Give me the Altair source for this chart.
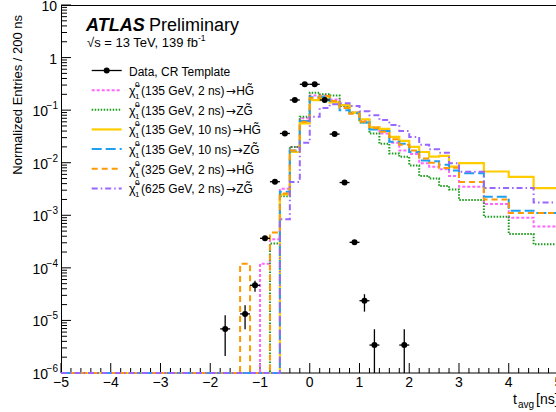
import altair as alt
import numpy as np
import pandas as pd

FONT = "Liberation Sans"

# ---------------- layout (plot area in px) ----------------
W, H = 495, 368
PAD = {"left": 61, "top": 5, "right": 0, "bottom": 39}
X_MIN, X_MAX = -5.0, 4.95
Y_MIN, Y_MAX = 1e-6, 10.0

# ---------------- binning of t_avg (ns) ----------------
fine_edges = np.round(np.arange(-5.0, 3.0001, 0.2), 1)
edges = np.concatenate([fine_edges, [3.5, 4.0, 4.5, 5.0]])
first_filled = -1.4  # every template is empty below this edge

# signal templates, normalized entries per bin starting at first_filled
h135_2ns_H = [0, 0, 1.2e-4, 3.5e-4, 3.2e-3, 0.020, 0.070, 0.19, 0.19, 0.16, 0.12,
              0.09, 0.065, 0.048, 0.036, 0.024, 0.017, 0.0147, 9.8e-3, 8.4e-3,
              7.5e-3, 5.6e-3, 3.5e-3, 1.64e-3, 9.0e-4, 6.1e-4]
h135_2ns_Z = [0, 0, 0, 2.9e-4, 2.3e-3, 0.020, 0.075, 0.215, 0.20, 0.19, 0.12,
              0.09, 0.058, 0.036, 0.023, 0.015, 0.013, 8.9e-3, 5.6e-3, 5.0e-3,
              3.6e-3, 3.1e-3, 1.95e-3, 9.4e-4, 4.4e-4, 2.8e-4]
h135_10ns_H = [0, 0, 0, 0, 2.5e-3, 0.016, 0.056, 0.155, 0.168, 0.14, 0.125,
               0.09, 0.067, 0.047, 0.044, 0.031, 0.026, 0.020, 0.016, 0.013,
               0.0135, 8.4e-3, 9.8e-3, 6.8e-3, 5.4e-3, 3.3e-3]
h135_10ns_Z = [0, 0, 0, 0, 2.8e-3, 0.017, 0.062, 0.175, 0.18, 0.15, 0.10,
               0.087, 0.058, 0.043, 0.040, 0.025, 0.023, 0.016, 0.011, 0.0107,
               9.1e-3, 7.1e-3, 6.3e-3, 2.26e-3, 1.22e-3, 1.1e-3]
h325_2ns_H = [1.2e-4, 0, 0, 4.7e-4, 2.6e-3, 0.017, 0.060, 0.17, 0.185, 0.15, 0.11,
              0.085, 0.060, 0.045, 0.039, 0.028, 0.022, 0.017, 0.012, 0.010,
              7.9e-3, 8.0e-3, 4.3e-3, 2.0e-3, 1.1e-3, 1.1e-3]
h625_2ns_Z = [0, 0, 0, 0, 8.4e-4, 4.3e-3, 0.024, 0.075, 0.11, 0.13, 0.135,
              0.12, 0.095, 0.08, 0.065, 0.052, 0.04, 0.031, 0.022, 0.018,
              0.0155, 9.8e-3, 6.7e-3, 3.3e-3, 3.3e-3, 1.75e-3]

# data (CR template): bin centres, contents and error-bar bounds
data_t = [-1.7, -1.3, -1.1, -0.9, -0.7, -0.5, -0.3, -0.1, 0.1, 0.3, 0.5, 0.7,
          0.9, 1.1, 1.3, 1.9]
data_v = [6.9e-6, 1.33e-5, 4.66e-5, 3.65e-4, 4.35e-3, 0.036, 0.156, 0.31, 0.31,
          0.156, 0.035, 4.2e-3, 3.06e-4, 2.37e-5, 3.4e-6, 3.4e-6]
data_lo = [2.1e-6, 6.8e-6, 3.5e-5, 3.35e-4, 4.2e-3, 0.0355, 0.155, 0.309, 0.309,
           0.155, 0.0345, 4.05e-3, 2.8e-4, 1.47e-5, 0, 0]
data_hi = [1.25e-5, 1.95e-5, 5.7e-5, 3.95e-4, 4.5e-3, 0.0365, 0.157, 0.311, 0.311,
           0.157, 0.0355, 4.35e-3, 3.3e-4, 3.15e-5, 6.8e-6, 6.8e-6]
half_bin = 0.1

# (mass/lifetime text, decay product, colour, dash, width, values)
samples = [
    ("(135 GeV, 2 ns)", "HG\u0303", "#ff66ff", [3, 2], 2.0, h135_2ns_H),
    ("(135 GeV, 2 ns)", "ZG\u0303", "#1a9c1a", [1.5, 1.5], 2.0, h135_2ns_Z),
    ("(135 GeV, 10 ns)", "HG\u0303", "#ffcc00", None, 2.2, h135_10ns_H),
    ("(135 GeV, 10 ns)", "ZG\u0303", "#1fa0ee", [10, 4], 2.0, h135_10ns_Z),
    ("(325 GeV, 2 ns)", "HG\u0303", "#ff9900", [6, 4], 2.0, h325_2ns_H),
    ("(625 GeV, 2 ns)", "ZG\u0303", "#9966ff", [6, 3, 1.5, 3], 2.0, h625_2ns_Z),
]

# Helvetica/Arial advance widths (1/1000 em) used to chain legend text pieces
ADV = {"(": 333, ")": 333, " ": 278, ",": 278, "G": 778, "e": 556, "V": 667,
       "n": 556, "s": 500}


def text_width(s, size):
    return sum(ADV.get(c, 556) for c in s) * size / 1000.0


xs = alt.Scale(domain=[X_MIN, X_MAX], nice=False, zero=False)
ys = alt.Scale(type="log", domain=[Y_MIN, Y_MAX], nice=False)
X = lambda f: alt.X(f, scale=xs, axis=None)
Y = lambda f: alt.Y(f, scale=ys, axis=None)


def hist_frame(vals):
    lefts = edges[:-1]
    n_empty = int(np.sum(lefts < first_filled - 1e-9))
    full = [0.0] * n_empty + list(vals)
    v = np.maximum(np.array(full + [full[-1]], dtype=float), Y_MIN)
    return pd.DataFrame({"t": edges, "v": v})


one = pd.DataFrame({"k": [0]})


def text(s, x, y, size, font=FONT, **kw):
    kw.setdefault("align", "left")
    kw.setdefault("baseline", "alphabetic")
    return alt.Chart(one).mark_text(text=s, font=font, fontSize=size,
                                    color="black", **kw).encode(
        x=alt.value(x), y=alt.value(y))


def rule(x, x2, y, y2=None, **kw):
    enc = dict(x=alt.value(x), x2=alt.value(x2), y=alt.value(y))
    if y2 is not None:
        enc["y2"] = alt.value(y2)
    return alt.Chart(one).mark_rule(**kw).encode(**enc)


layers = []

# ---- frame ----
layers.append(rule(0, W, 0.5, color="black", strokeWidth=1))
layers.append(rule(0.5, 0.5, 0, H, color="black", strokeWidth=1))
layers.append(rule(0, W, H, color="black", strokeWidth=1))

# inward tick marks
x_major = list(range(-5, 5))
x_minor = [round(-5 + 0.2 * i, 1) for i in range(50) if i % 5 != 0]
y_major = [10.0 ** k for k in range(-6, 2)]
y_minor = [m * 10.0 ** k for k in range(-6, 1) for m in range(2, 10)]
for vals, ln in ((x_major, 10), (x_minor, 5)):
    layers.append(alt.Chart(pd.DataFrame({"t": vals})).mark_rule(
        color="black", strokeWidth=1).encode(
        x=X("t:Q"), y=alt.value(H), y2=alt.value(H - ln)))
for vals, ln in ((y_major, 10), (y_minor, 6)):
    layers.append(alt.Chart(pd.DataFrame({"v": vals})).mark_rule(
        color="black", strokeWidth=1).encode(
        y=Y("v:Q"), x=alt.value(0), x2=alt.value(ln)))

# x tick labels
xl = pd.DataFrame({"t": x_major + [5],
                   "s": [str(v).replace("-", "\u2212") for v in x_major + [5]]})
layers.append(alt.Chart(xl).mark_text(
    font=FONT, fontSize=14, align="center", baseline="top", dy=3,
    color="black").encode(x=X("t:Q"), y=alt.value(H), text="s:N"))

# y tick labels 10^k
dec = pd.DataFrame({"v": [10.0 ** k for k in range(-6, 0)],
                    "e": ["\u2212%d" % -k for k in range(-6, 0)]})
layers.append(alt.Chart(dec).mark_text(
    text="10", font=FONT, fontSize=14, align="right", baseline="middle",
    dy=2, color="black").encode(y=Y("v:Q"), x=alt.value(-13)))
layers.append(alt.Chart(dec).mark_text(
    font=FONT, fontSize=10, align="right", baseline="middle", dy=-4,
    color="black").encode(y=Y("v:Q"), x=alt.value(-3), text="e:N"))
plain = pd.DataFrame({"v": [1.0, 10.0], "s": ["1", "10"], "d": [1, 2]})
layers.append(alt.Chart(plain).mark_text(
    font=FONT, fontSize=14, align="right", baseline="middle", dy=2,
    color="black").encode(y=Y("v:Q"), x=alt.value(-4), text="s:N"))

# axis titles
layers.append(text("Normalized Entries / 200 ns", -43, 10, 13, angle=270,
                   align="right", baseline="middle"))
layers.append(text("t", 452, 399, 14))
layers.append(text("avg", 457, 403, 10))
layers.append(text("[ns]", 475, 399, 14))

# ---- signal templates ----
for prefix, prod, col, dash, sw, vals in samples:
    kw = dict(color=col, strokeWidth=sw, interpolate="step-after")
    if dash:
        kw["strokeDash"] = dash
    layers.append(alt.Chart(hist_frame(vals)).mark_line(**kw).encode(
        x=X("t:Q"), y=Y("v:Q")))

# ---- data points with error bars ----
dd = pd.DataFrame({"t": data_t, "v": data_v,
                   "lo": np.maximum(np.array(data_lo, dtype=float), Y_MIN),
                   "hi": data_hi})
dd["tl"] = dd["t"] - half_bin
dd["tr"] = dd["t"] + half_bin
layers.append(alt.Chart(dd).mark_rule(color="black", strokeWidth=1.3).encode(
    x=X("t:Q"), y=Y("lo:Q"), y2="hi:Q"))
layers.append(alt.Chart(dd).mark_rule(color="black", strokeWidth=1.3).encode(
    x=X("tl:Q"), x2="tr:Q", y=Y("v:Q")))
layers.append(alt.Chart(dd).mark_circle(color="black", opacity=1, size=36).encode(
    x=X("t:Q"), y=Y("v:Q")))

# ---- labels ----
layers.append(text("ATLAS", 25, 26, 18, fontWeight="bold", fontStyle="italic"))
layers.append(text("Preliminary", 88, 26, 18))
layers.append(text("\u221as = 13 TeV, 139 fb", 26, 42, 13))
layers.append(text("-1", 137, 36, 8.5))

# ---- legend ----
row0, row_step = 65.5, 19.65
lx0, lx1, tx = 30.7, 60.7, 68
LS = 12
layers.append(rule(lx0, lx1, row0, color="black", strokeWidth=1.3))
layers.append(alt.Chart(one).mark_circle(color="black", opacity=1, size=36).encode(
    x=alt.value((lx0 + lx1) / 2), y=alt.value(row0)))
layers.append(text("Data, CR Template", tx, row0 + 1, LS, baseline="middle"))
for i, (prefix, prod, col, dash, sw, vals) in enumerate(samples, start=1):
    yr = row0 + i * row_step
    kw = dict(color=col, strokeWidth=sw)
    if dash:
        kw["strokeDash"] = dash
    layers.append(rule(lx0, lx1, yr, **kw))
    layers.append(text("\u03c7\u0303", tx, yr + 1, 12.5, baseline="middle"))
    layers.append(text("0", tx + 6, yr - 5, 8, baseline="middle"))
    layers.append(text("1", tx + 6, yr + 7, 8, baseline="middle"))
    x_pre = tx + 12
    layers.append(text(prefix, x_pre, yr + 1, LS, baseline="middle"))
    x_arr = x_pre + text_width(prefix, LS)
    layers.append(text("\u2192", x_arr, yr + 1, LS, font="DejaVu Sans",
                       baseline="middle"))
    layers.append(text(prod, x_arr + 10.5, yr + 1, LS, baseline="middle"))

chart = alt.layer(*layers).properties(
    width=W, height=H, padding=PAD,
    autosize=alt.AutoSizeParams(type="none"),
).configure_view(stroke=None)

chart.save("out.html", embed_options={"renderer": "svg", "actions": False})
